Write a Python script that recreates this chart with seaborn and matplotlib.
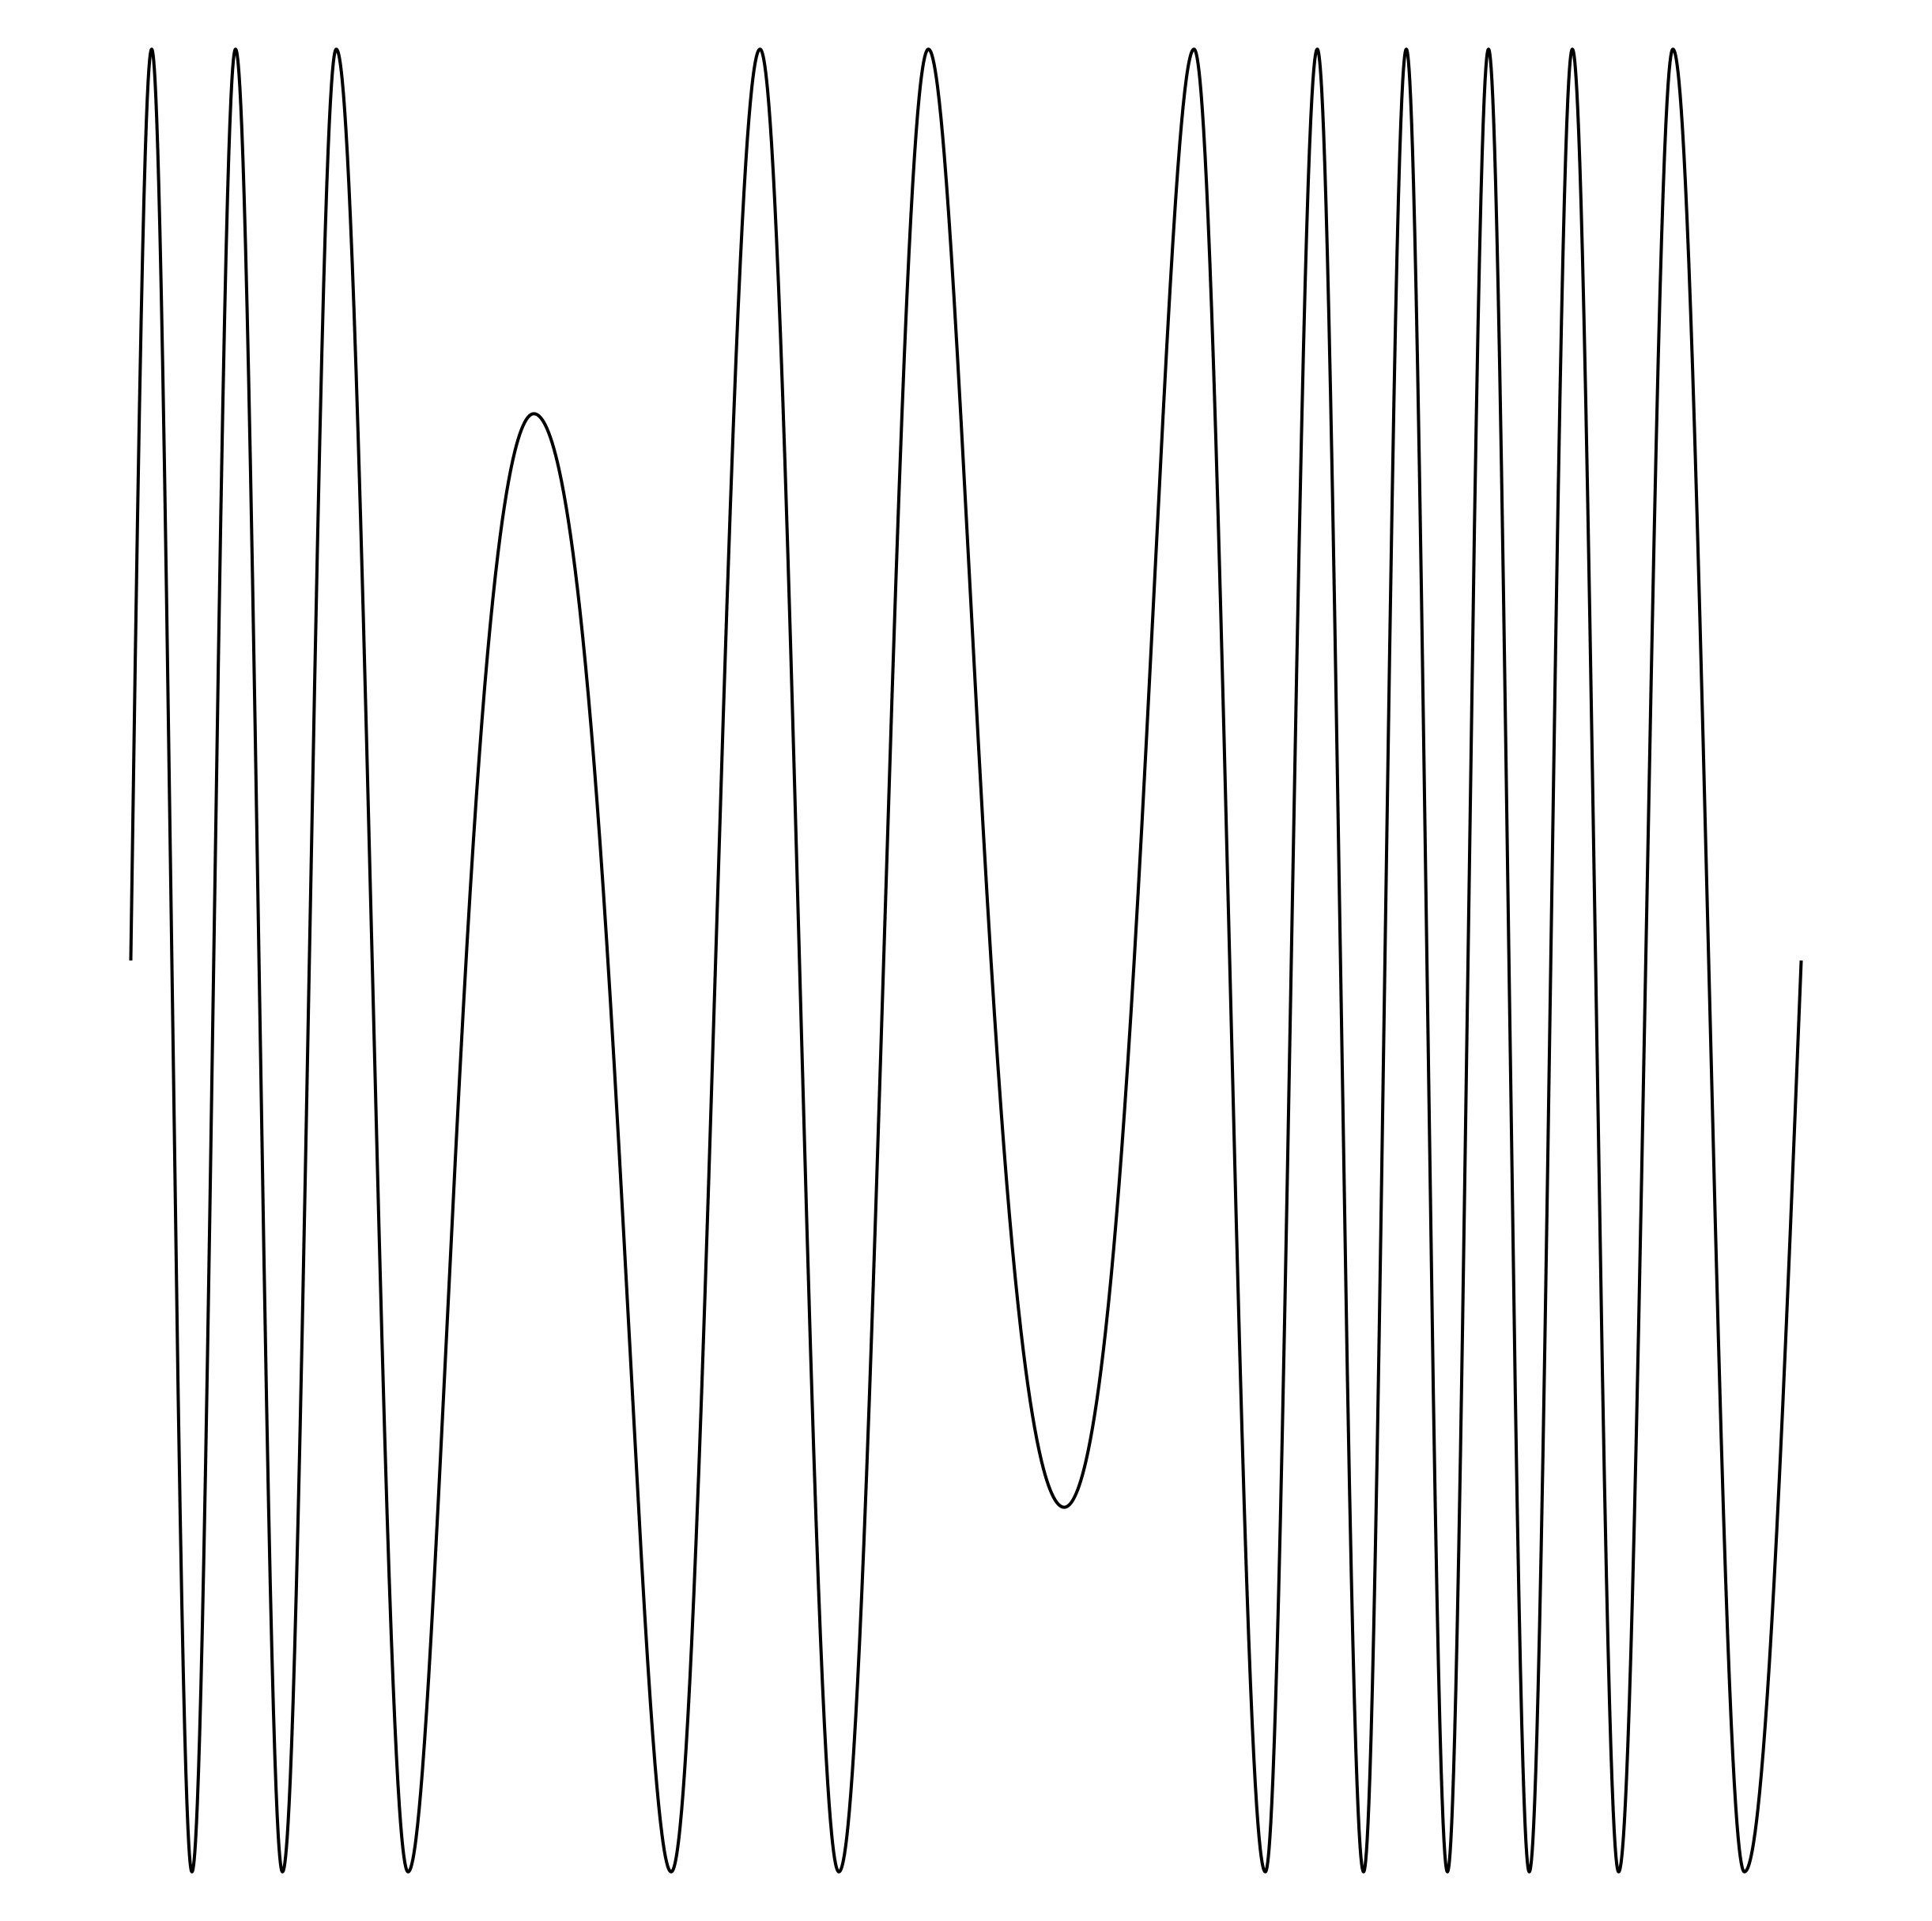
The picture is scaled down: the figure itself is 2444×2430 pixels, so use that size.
import numpy as np
import pandas as pd
import seaborn as sns
import matplotlib
matplotlib.use("Agg")
import matplotlib.pyplot as plt

# Turning points of the wave (t = position along the trace, y = level)
knot_t = [0.0, 0.125, 0.366, 0.627, 0.908, 1.230, 1.660, 2.413, 3.235, 3.767,
          4.239, 4.775, 5.588, 6.365, 6.792, 7.103, 7.380, 7.636, 7.882, 8.128,
          8.372, 8.630, 8.907, 9.232, 9.660, 10.0]
knot_y = [0.0, 1.0, -1.0, 1.0, -1.0, 1.0, -1.0, 0.6, -1.0, 1.0,
          -1.0, 1.0, -0.6, 1.0, -1.0, 1.0, -1.0, 1.0, -1.0, 1.0,
          -1.0, 1.0, -1.0, 1.0, -1.0, 0.0]


def trace(ts, ys, n=240):
    # join turning points with wave arcs
    xs, vs = [], []
    last = len(ts) - 2
    for i in range(len(ts) - 1):
        s = np.linspace(0, 1, n)
        t0, t1, y0, y1 = ts[i], ts[i + 1], ys[i], ys[i + 1]
        if i == 0:
            v = y1 * np.sin(np.pi / 2 * s)  # zero crossing up to first crest
        elif i == last:
            v = y0 * np.cos(np.pi / 2 * s)  # last trough back to zero
        elif abs(y1) < 1:
            # phase slows down and turns before reaching a full crest
            d = np.pi / 2 + np.arcsin(abs(y1))
            v = y0 * np.cos(d * (1 - (1 - s) ** 2))
        elif abs(y0) < 1:
            d = np.pi / 2 + np.arcsin(abs(y0))
            v = y1 * np.cos(d * (1 - s ** 2))
        else:
            v = y0 + (y1 - y0) * (1 - np.cos(np.pi * s)) / 2
        xs.append(t0 + (t1 - t0) * s)
        vs.append(v)
    return pd.DataFrame({"t": np.concatenate(xs), "y": np.concatenate(vs)})


df = trace(knot_t, knot_y)

sns.set_style("white")
fig = plt.figure(figsize=(12.22, 12.15), dpi=200)
ax = fig.add_axes([0, 0, 1, 1])
sns.lineplot(data=df, x="t", y="y", sort=False, estimator=None, color="black",
             lw=1.45, ax=ax, solid_capstyle="butt")
ax.set_xlim(-0.783, 10.783)
ax.set_ylim(-1.054, 1.054)
ax.axis("off")
fig.savefig("out.png", dpi=200, facecolor="white")
